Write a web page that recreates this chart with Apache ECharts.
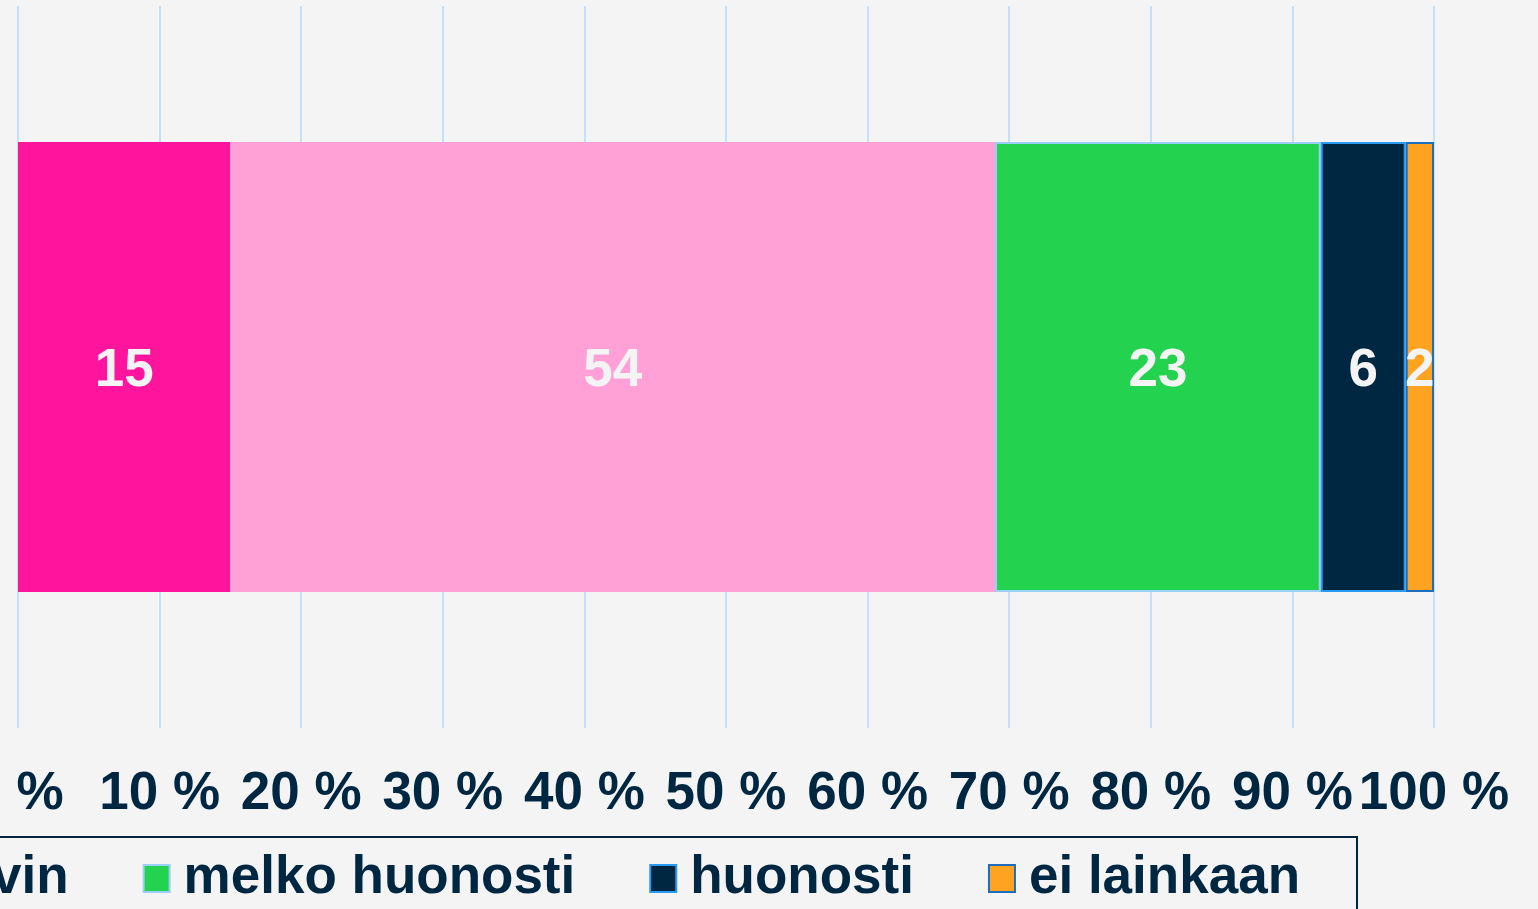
<!DOCTYPE html>
<html>
<head>
<meta charset="utf-8">
<script src="https://cdn.jsdelivr.net/npm/echarts@6/dist/echarts.min.js"></script>
<style>
html,body{margin:0;padding:0;background:#F4F4F4;overflow:hidden;width:1538px;height:909px;}
#chart{position:absolute;left:-800px;top:0;width:2338px;height:909px;}
</style>
</head>
<body>
<div id="chart"></div>
<script>
const categories = ['kaikki'];
const seriesNames = ['erittäin hyvin', 'melko hyvin', 'melko huonosti', 'huonosti', 'ei lainkaan'];
const erittainHyvin = [15];
const melkoHyvin = [54];
const melkoHuonosti = [23];
const huonosti = [6];
const eiLainkaan = [2];
const tickValues = [0, 10, 20, 30, 40, 50, 60, 70, 80, 90, 100];

const seriesValues = [erittainHyvin, melkoHyvin, melkoHuonosti, huonosti, eiLainkaan];
const colors = ['#FF149E', '#FFA0D6', '#23D34F', '#002742', '#FFA321'];
const borders = [null, null, '#9ACFF7', '#2A9AF0', '#1C6FBF'];

const FONT = '"Liberation Sans", Arial, sans-serif';
const NAVY = '#002742';

const chart = echarts.init(document.getElementById('chart'), null, {renderer: 'canvas'});
chart.setOption({
  backgroundColor: '#F4F4F4',
  animation: false,
  grid: {left: 818, right: 104, top: 6, bottom: 181},
  xAxis: {
    type: 'value',
    min: tickValues[0],
    max: tickValues[tickValues.length - 1],
    interval: 10,
    axisLine: {show: false},
    axisTick: {show: false},
    splitLine: {show: true, lineStyle: {color: '#C3E1FA', width: 2}},
    axisLabel: {
      formatter: '{value} %',
      color: NAVY, fontFamily: FONT, fontWeight: 'bold', fontSize: 53, margin: 40
    }
  },
  yAxis: {
    type: 'category',
    data: categories,
    show: false
  },
  legend: {
    data: seriesNames,
    right: 181,
    top: 837,
    orient: 'horizontal',
    icon: 'rect',
    itemWidth: 26,
    itemHeight: 27,
    itemGap: 74,
    padding: [15, 57, 20, 20],
    borderColor: NAVY,
    borderWidth: 2,
    selectedMode: false,
    textStyle: {
      color: NAVY, fontFamily: FONT, fontWeight: 'bold', fontSize: 53,
      lineHeight: 52, padding: [0, 0, 0, 9]
    }
  },
  series: seriesNames.map((name, i) => ({
    name: name,
    type: 'bar',
    stack: 'total',
    data: seriesValues[i],
    barWidth: 450,
    itemStyle: {
      color: colors[i],
      borderColor: borders[i] || colors[i],
      borderWidth: borders[i] ? 2 : 0
    },
    label: {
      show: true,
      position: 'inside',
      offset: [0, 4],
      color: '#F4F4F4',
      fontFamily: FONT,
      fontWeight: 'bold',
      fontSize: 53
    }
  }))
});
</script>
</body>
</html>
